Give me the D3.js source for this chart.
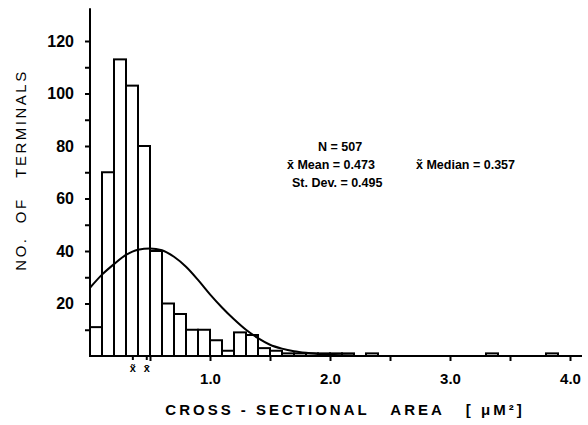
<!DOCTYPE html>
<html lang="en">
<head>
  <meta charset="UTF-8">
  <title>Cross-sectional area of terminals</title>
  <script src="https://d3js.org/d3.v7.min.js"></script>
  <style>
    body { margin: 0; padding: 0; background: #fff; }
    svg { display: block; font-family: 'Liberation Sans', Arial, sans-serif; }
    .tick text { font-weight: bold; }
  </style>
</head>
<body>
  <svg id="chart" width="588" height="425"></svg>
  <script>
    // histogram : left edge of each 0.1 bin and its count
    const binLeft = [0.0, 0.1, 0.2, 0.3, 0.4, 0.5, 0.6, 0.7, 0.8, 0.9,
                     1.0, 1.1, 1.2, 1.3, 1.4, 1.5, 1.6, 1.7, 1.8, 1.9,
                     2.0, 2.1, 2.3, 3.3, 3.8];
    const counts  = [11, 70, 113, 103, 80, 40, 20, 16, 10, 10,
                     6, 2, 9, 8, 3, 2, 1, 1, 1, 1,
                     1, 1, 1, 1, 1];
    const binWidth = 0.1;

    // fitted curve
    const curveX = [0, 0.1, 0.2, 0.3, 0.4, 0.5, 0.6, 0.7, 0.8, 0.9, 1.0,
                    1.1, 1.2, 1.3, 1.4, 1.5, 1.6, 1.7, 1.8, 1.9, 2.0, 2.2];
    const curveY = [26, 31, 35, 38.5, 40.5, 41, 40.3, 37.8, 34, 29, 23.5,
                    18.5, 14, 10, 6.8, 4.3, 2.8, 1.8, 1.2, 0.8, 0.5, 0.2];

    const yTicks = [20, 40, 60, 80, 100, 120];
    const xTicks = [1.0, 2.0, 3.0, 4.0];
    const stats = { n: 507, mean: 0.473, median: 0.357, sd: 0.495 };

    const svg = d3.select('#chart');
    const x = d3.scaleLinear().domain([0, 4]).range([90, 570]);
    const y = d3.scaleLinear().domain([0, 120]).range([356, 41]);

    // bars
    svg.append('g').selectAll('rect')
      .data(binLeft)
      .enter()
      .append('rect')
      .attr('x', d => x(d))
      .attr('y', (d, i) => y(counts[i]))
      .attr('width', x(binWidth) - x(0))
      .attr('height', (d, i) => y(0) - y(counts[i]))
      .attr('fill', '#fff')
      .attr('stroke', '#000')
      .attr('stroke-width', 2);

    // curve
    const line = d3.line()
      .x((d, i) => x(curveX[i]))
      .y(d => y(d))
      .curve(d3.curveMonotoneX);
    svg.append('path')
      .datum(curveY)
      .attr('d', line)
      .attr('fill', 'none')
      .attr('stroke', '#000')
      .attr('stroke-width', 2);

    // y axis
    const yAxis = svg.append('g')
      .attr('transform', `translate(${x(0)},0)`)
      .call(d3.axisLeft(y).tickValues(d3.range(10, 121, 10)).tickSize(5).tickPadding(11)
        .tickFormat(d => yTicks.includes(d) ? d : ''));
    yAxis.select('.domain').attr('d', `M0,${y(0)}V${y(132.5)}`).attr('stroke-width', 2);
    yAxis.selectAll('.tick line').attr('stroke-width', 2);
    yAxis.selectAll('.tick text').attr('font-size', 16).attr('fill', '#000');

    // x axis
    const xAxis = svg.append('g')
      .attr('transform', `translate(0,${y(0)})`)
      .call(d3.axisBottom(x).tickValues(d3.range(0.5, 4.01, 0.5)).tickSize(5).tickPadding(12)
        .tickFormat(d => xTicks.some(t => Math.abs(t - d) < 1e-6) ? d3.format('.1f')(d) : ''));
    xAxis.select('.domain').attr('d', `M${x(0)},0H${x(4.1)}`).attr('stroke-width', 2);
    xAxis.selectAll('.tick line').attr('stroke-width', 2);
    xAxis.selectAll('.tick text').attr('font-size', 15).attr('fill', '#000');

    // median / mean marks under the axis
    const marks = [[stats.median, 'x\u0303'], [stats.mean, 'x\u0304']];
    marks.forEach(m => {
      svg.append('line')
        .attr('x1', x(m[0])).attr('x2', x(m[0]))
        .attr('y1', y(0)).attr('y2', y(0) + 4)
        .attr('stroke', '#000').attr('stroke-width', 2);
      svg.append('text')
        .attr('x', x(m[0])).attr('y', y(0) + 16)
        .attr('text-anchor', 'middle')
        .attr('font-size', 11).attr('font-weight', 'bold')
        .text(m[1]);
    });

    // statistics block
    const stat = (tx, ty, s) => svg.append('text')
      .attr('x', tx).attr('y', ty)
      .attr('font-size', 12.5).attr('font-weight', 'bold')
      .text(s);
    stat(318, 151, `N = ${stats.n}`);
    stat(287, 169, `x\u0304 Mean = ${stats.mean}`);
    stat(416, 169, `x\u0303 Median = ${stats.median}`);
    stat(292, 187, `St. Dev. = ${stats.sd}`);

    // axis titles
    svg.append('text')
      .attr('transform', 'translate(26,170) rotate(-90)')
      .attr('text-anchor', 'middle')
      .attr('font-size', 15)
      .attr('letter-spacing', 2.5)
      .style('white-space', 'pre')
      .text('NO.  OF   TERMINALS');

    svg.append('text')
      .attr('x', 345).attr('y', 415)
      .attr('text-anchor', 'middle')
      .attr('font-size', 15)
      .attr('font-weight', 'bold')
      .attr('letter-spacing', 3)
      .style('white-space', 'pre')
      .text('CROSS - SECTIONAL   AREA   [ \u03bcM\u00b2]');
  </script>
</body>
</html>
